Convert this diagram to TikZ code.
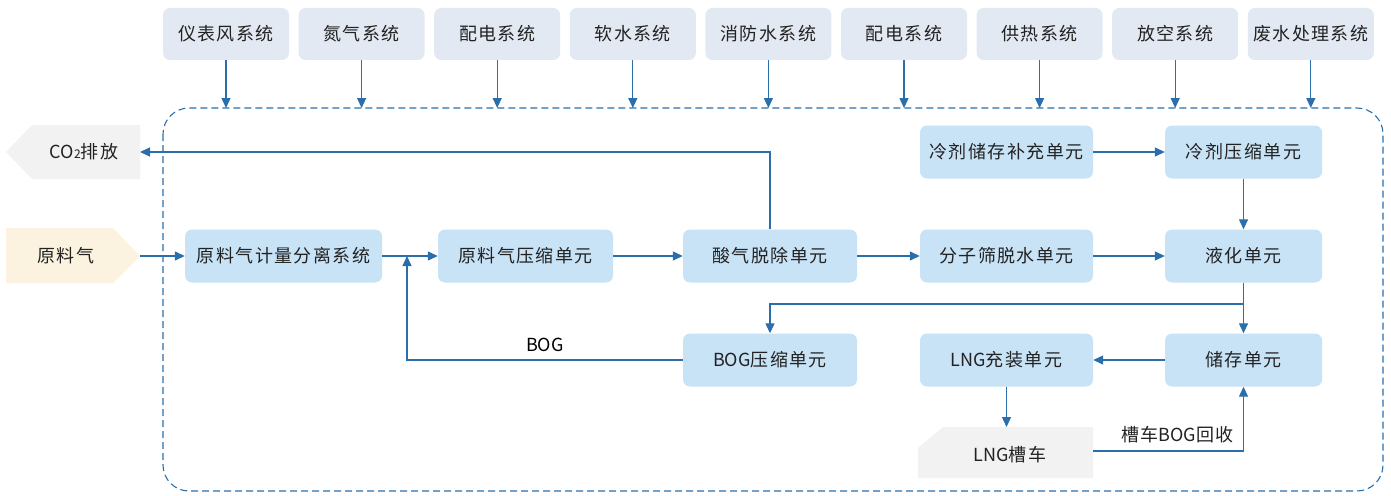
\documentclass[tikz,border=0pt]{standalone}
\usepackage{fontspec}
\setmainfont{Noto Sans CJK SC}[LetterSpace=8]
\newfontfamily\latn{Noto Sans CJK SC}
\usetikzlibrary{arrows.meta}
\definecolor{flow}{HTML}{2A6EAB}
\definecolor{unit}{HTML}{C8E2F6}
\definecolor{aux}{HTML}{E3E9F3}
\definecolor{outlet}{HTML}{F2F2F2}
\definecolor{feed}{HTML}{FBF3E0}
\definecolor{ink}{HTML}{222222}

\begin{document}
\begin{tikzpicture}[x=1pt, y=-1pt,
  every node/.style={font=\fontsize{18}{20}\selectfont\color{ink}, inner sep=0pt},
  unitbox/.style={fill=unit, rounded corners=7pt, minimum width=174pt, minimum height=53pt},
  auxbox/.style={fill=aux, rounded corners=7pt, minimum width=126pt, minimum height=52pt},
  flowline/.style={draw=flow, line width=1.3pt, -{Triangle[length=10pt,width=9pt]}}]
  \useasboundingbox (0,0) rectangle (1391,495);
  % Outer boundary
  \draw[flow, line width=1.1pt, dash pattern=on 7pt off 4pt, rounded corners=26pt] (163,108) rectangle (1383,491);
  \coordinate (top) at (0,108);
  % Utilities
  \foreach \name [count=\i from 0] in {仪表风系统,氮气系统,配电系统,软水系统,消防水系统,配电系统,供热系统,放空系统,废水处理系统} {
    \node[auxbox] (aux\i) at (226+135.6*\i,34) {\name};
    \draw[flowline] (aux\i.south) -- (aux\i.south |- top);
  }
  % Feed and vent
  \fill[feed] (6,228) -- (113,228) -- (140,256) -- (113,283) -- (6,283) -- cycle;
  \node (feed) at (66,256) {原料气};
  \coordinate (feedtip) at (140,256);
  \fill[outlet] (140,125) -- (140,179) -- (32,179) -- (6,152) -- (32,125) -- cycle;
  \node (co2) at (84,152) {{\latn CO}{\fontsize{12}{12}\selectfont 2}排放};
  \coordinate (co2end) at (140,152);
  % Units
  \node[unitbox, minimum width=197pt] (sep) at (283.5,256) {原料气计量分离系统};
  \node[unitbox, minimum width=175pt] (comp) at (525.5,256) {原料气压缩单元};
  \node[unitbox] (acid) at (770,256) {酸气脱除单元};
  \node[unitbox, minimum width=173pt] (dehy) at (1006.5,256) {分子筛脱水单元};
  \node[unitbox, minimum width=157pt] (liq) at (1243.5,256) {液化单元};
  \node[unitbox, minimum width=173pt] (refst) at (1006.5,152) {冷剂储存补充单元};
  \node[unitbox, minimum width=157pt] (refcomp) at (1243.5,152) {冷剂压缩单元};
  \node[unitbox] (bogc) at (770,360) {{\latn BOG}压缩单元};
  \node[unitbox, minimum width=173pt] (fill) at (1006.5,360) {{\latn LNG}充装单元};
  \node[unitbox, minimum width=157pt] (store) at (1243.5,360) {储存单元};
  \fill[outlet] (918,448) -- (943,427) -- (1093,427) -- (1093,478) -- (918,478) -- cycle;
  \node (truck) at (1010,455) {{\latn LNG}槽车};
  \coordinate (trucktop) at (1006.5,427);
  \coordinate (truckend) at (1093,451);
  % Flows
  \coordinate (bogjoin) at (407,256);
  \coordinate (split) at (1243.5,304);
  \draw[flowline] (feedtip) -- (sep.west);
  \draw[flowline] (sep.east) -- (comp.west);
  \draw[flowline] (comp.east) -- (acid.west);
  \draw[flowline] (acid.east) -- (dehy.west);
  \draw[flowline] (dehy.east) -- (liq.west);
  \draw[flowline] (acid.north) |- (co2end);
  \draw[flowline] (refst.east) -- (refcomp.west);
  \draw[flowline] (refcomp.south) -- (liq.north);
  \draw[flowline] (liq.south) -- (store.north);
  \draw[flowline] (split) -| (bogc.north);
  \draw[flowline] (bogc.west) -| node[pos=0.25, above=8pt, font=\fontsize{18}{20}\latn] {BOG} (bogjoin);
  \draw[flowline] (store.west) -- (fill.east);
  \draw[flowline] (fill.south) -- (trucktop);
  \draw[flowline] (truckend) -| node[pos=0.28, above=7pt] {槽车{\latn BOG}回收} (store.south);
\end{tikzpicture}
\end{document}
